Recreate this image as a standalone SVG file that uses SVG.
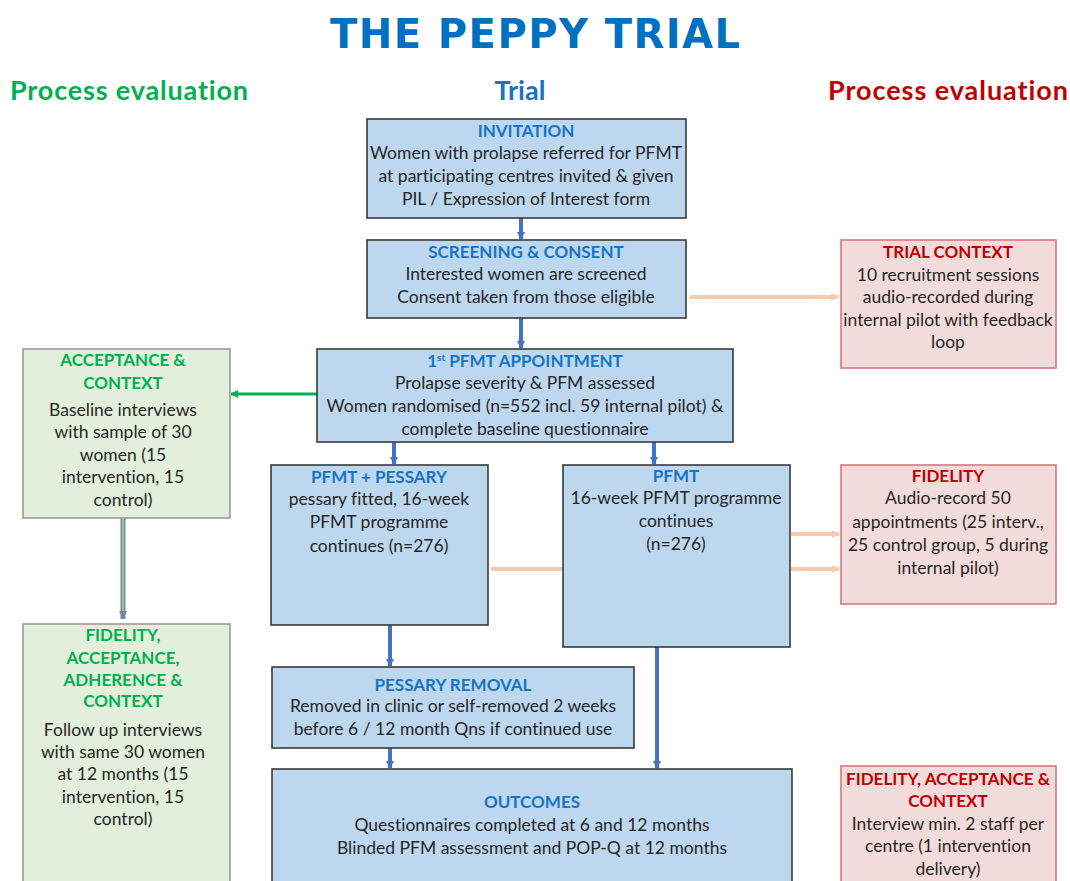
<svg xmlns="http://www.w3.org/2000/svg" width="1070" height="881" viewBox="0 0 1070 881">
  <style>
    .trial { fill: #BDD7EE; stroke: #3A3A3A; stroke-width: 1.6; }
    .pe-red { fill: #F2DCDB; stroke: #D9777A; stroke-width: 1.6; }
    .pe-green { fill: #E2EFDA; stroke: #9A9A9A; stroke-width: 1.6; }
    text { font-family: Lato, "Open Sans", "Liberation Sans", sans-serif; font-size: 17.5px; fill: #262626; text-anchor: middle; font-variant-ligatures: none; }
    .hb { font-weight: bold; fill: #1874C4; font-size: 17px; }
    .hg { font-weight: bold; fill: #00B050; font-size: 17px; }
    .hr { font-weight: bold; fill: #C00000; font-size: 17px; }
    .blue { stroke: #4472C4; stroke-width: 4; fill: none; }
    .peach { stroke: #F8CBAD; stroke-width: 4; fill: none; }
    .green { stroke: #00B050; stroke-width: 3; fill: none; }
  </style>
  <defs>
    <marker id="ahBlue" markerUnits="userSpaceOnUse" markerWidth="10" markerHeight="8" refX="7" refY="4" orient="auto">
      <path d="M0,0 L8,4 L0,8 Z" fill="#4472C4"/>
    </marker>
    <marker id="ahPeach" markerUnits="userSpaceOnUse" markerWidth="10" markerHeight="10" refX="7" refY="5" orient="auto">
      <path d="M0,1 L8,5 L0,9 Z" fill="#F8CBAD"/>
    </marker>
    <marker id="ahGreen" markerUnits="userSpaceOnUse" markerWidth="10" markerHeight="8" refX="7" refY="4" orient="auto">
      <path d="M0,0 L8,4 L0,8 Z" fill="#00B050"/>
    </marker>
    <marker id="ahGrey" markerUnits="userSpaceOnUse" markerWidth="10" markerHeight="8" refX="6" refY="4" orient="auto">
      <path d="M0,0 L7,4 L0,8 Z" fill="#6F86A8"/>
    </marker>
  </defs>

  <!-- Headings -->
  <g id="headings">
    <text x="535" y="48" style="font-family:'DejaVu Sans',sans-serif;font-weight:bold;font-size:40px;fill:#0070C0" textLength="410">THE PEPPY TRIAL</text>
    <text x="129" y="100" style="font-weight:bold;font-size:27px;fill:#00B050" textLength="238">Process evaluation</text>
    <text x="520" y="100" style="font-weight:bold;font-size:27px;fill:#1874C4">Trial</text>
    <text x="948" y="100" style="font-weight:bold;font-size:27px;fill:#C00000" textLength="240">Process evaluation</text>
  </g>

  <!-- Connectors -->
  <g id="connectors">
    <line class="blue" x1="521" y1="218" x2="521" y2="239" marker-end="url(#ahBlue)"/>
    <line class="blue" x1="521" y1="318" x2="521" y2="348" marker-end="url(#ahBlue)"/>
    <line class="blue" x1="394" y1="442" x2="394" y2="464" marker-end="url(#ahBlue)"/>
    <line class="blue" x1="654" y1="442" x2="654" y2="464" marker-end="url(#ahBlue)"/>
    <line class="blue" x1="390" y1="625" x2="390" y2="666" marker-end="url(#ahBlue)"/>
    <line class="blue" x1="390" y1="748" x2="390" y2="768" marker-end="url(#ahBlue)"/>
    <line class="blue" x1="657" y1="647" x2="657" y2="768" marker-end="url(#ahBlue)"/>
    <line class="green" x1="317" y1="394" x2="231" y2="394" marker-end="url(#ahGreen)"/>
    <line x1="123" y1="518" x2="123" y2="619" stroke="#6F86A8" stroke-width="5"/>
    <line x1="123" y1="518" x2="123" y2="617" stroke="#9DBB9A" stroke-width="2.5" marker-end="url(#ahGrey)"/>
    <line class="peach" x1="690" y1="297" x2="838" y2="297" marker-end="url(#ahPeach)"/>
    <line class="peach" x1="491" y1="569" x2="563" y2="569"/>
    <line class="peach" x1="791" y1="534" x2="839" y2="534" marker-end="url(#ahPeach)"/>
    <line class="peach" x1="791" y1="569" x2="839" y2="569" marker-end="url(#ahPeach)"/>
  </g>

  <!-- Trial column -->
  <g id="invitation">
    <rect class="trial" x="367" y="119" width="319" height="99"/>
    <text class="hb" x="526" y="137">INVITATION</text>
    <text x="526" y="159">Women with prolapse referred for PFMT</text>
    <text x="526" y="182">at participating centres invited &amp; given</text>
    <text x="526" y="205">PIL / Expression of Interest form</text>
  </g>
  <g id="screening">
    <rect class="trial" x="367" y="240" width="319" height="78"/>
    <text class="hb" x="526" y="258">SCREENING &amp; CONSENT</text>
    <text x="526" y="280">Interested women are screened</text>
    <text x="526" y="303">Consent taken from those eligible</text>
  </g>
  <g id="first-appointment">
    <rect class="trial" x="317" y="349" width="416" height="93"/>
    <text class="hb" x="525" y="367">1<tspan dy="-6" style="font-size:10px">st</tspan><tspan dy="6"> PFMT APPOINTMENT</tspan></text>
    <text x="525" y="389">Prolapse severity &amp; PFM assessed</text>
    <text x="525" y="412">Women randomised (n=552 incl. 59 internal pilot) &amp;</text>
    <text x="525" y="435">complete baseline questionnaire</text>
  </g>
  <g id="pfmt-pessary">
    <rect class="trial" x="271" y="465" width="217" height="160"/>
    <text class="hb" x="379" y="483">PFMT + PESSARY</text>
    <text x="379" y="505">pessary fitted, 16-week</text>
    <text x="379" y="528">PFMT programme</text>
    <text x="379" y="552">continues (n=276)</text>
  </g>
  <g id="pfmt">
    <rect class="trial" x="563" y="465" width="227" height="182"/>
    <text class="hb" x="676" y="482">PFMT</text>
    <text x="676" y="504">16-week PFMT programme</text>
    <text x="676" y="527">continues</text>
    <text x="676" y="550">(n=276)</text>
  </g>
  <g id="pessary-removal">
    <rect class="trial" x="272" y="667" width="362" height="81"/>
    <text class="hb" x="453" y="691">PESSARY REMOVAL</text>
    <text x="453" y="712">Removed in clinic or self-removed 2 weeks</text>
    <text x="453" y="735">before 6 / 12 month Qns if continued use</text>
  </g>
  <g id="outcomes">
    <rect class="trial" x="272" y="769" width="520" height="130"/>
    <text class="hb" x="532" y="808">OUTCOMES</text>
    <text x="532" y="831">Questionnaires completed at 6 and 12 months</text>
    <text x="532" y="854">Blinded PFM assessment and POP-Q at 12 months</text>
  </g>

  <!-- Process evaluation, left -->
  <g id="acceptance-context">
    <rect class="pe-green" x="23" y="349" width="207" height="169"/>
    <text class="hg" x="123" y="366">ACCEPTANCE &amp;</text>
    <text class="hg" x="123" y="389">CONTEXT</text>
    <text x="123" y="416">Baseline interviews</text>
    <text x="123" y="438">with sample of 30</text>
    <text x="123" y="461">women (15</text>
    <text x="123" y="483">intervention, 15</text>
    <text x="123" y="506">control)</text>
  </g>
  <g id="followup-interviews">
    <rect class="pe-green" x="23" y="624" width="207" height="275"/>
    <text class="hg" x="123" y="641">FIDELITY,</text>
    <text class="hg" x="123" y="664">ACCEPTANCE,</text>
    <text class="hg" x="123" y="686">ADHERENCE &amp;</text>
    <text class="hg" x="123" y="707">CONTEXT</text>
    <text x="123" y="736">Follow up interviews</text>
    <text x="123" y="758">with same 30 women</text>
    <text x="123" y="780">at 12 months (15</text>
    <text x="123" y="803">intervention, 15</text>
    <text x="123" y="825">control)</text>
  </g>

  <!-- Process evaluation, right -->
  <g id="trial-context">
    <rect class="pe-red" x="841" y="240" width="215" height="128"/>
    <text class="hr" x="948" y="258">TRIAL CONTEXT</text>
    <text x="948" y="281">10 recruitment sessions</text>
    <text x="948" y="303">audio-recorded during</text>
    <text x="948" y="326">internal pilot with feedback</text>
    <text x="948" y="348">loop</text>
  </g>
  <g id="fidelity">
    <rect class="pe-red" x="841" y="465" width="215" height="139"/>
    <text class="hr" x="948" y="482">FIDELITY</text>
    <text x="948" y="504">Audio-record 50</text>
    <text x="948" y="528">appointments (25 interv.,</text>
    <text x="948" y="551">25 control group, 5 during</text>
    <text x="948" y="574">internal pilot)</text>
  </g>
  <g id="staff-interviews">
    <rect class="pe-red" x="841" y="766" width="215" height="133"/>
    <text class="hr" x="948" y="785">FIDELITY, ACCEPTANCE &amp;</text>
    <text class="hr" x="948" y="807">CONTEXT</text>
    <text x="948" y="830">Interview min. 2 staff per</text>
    <text x="948" y="852">centre (1 intervention</text>
    <text x="948" y="875">delivery)</text>
  </g>
</svg>
